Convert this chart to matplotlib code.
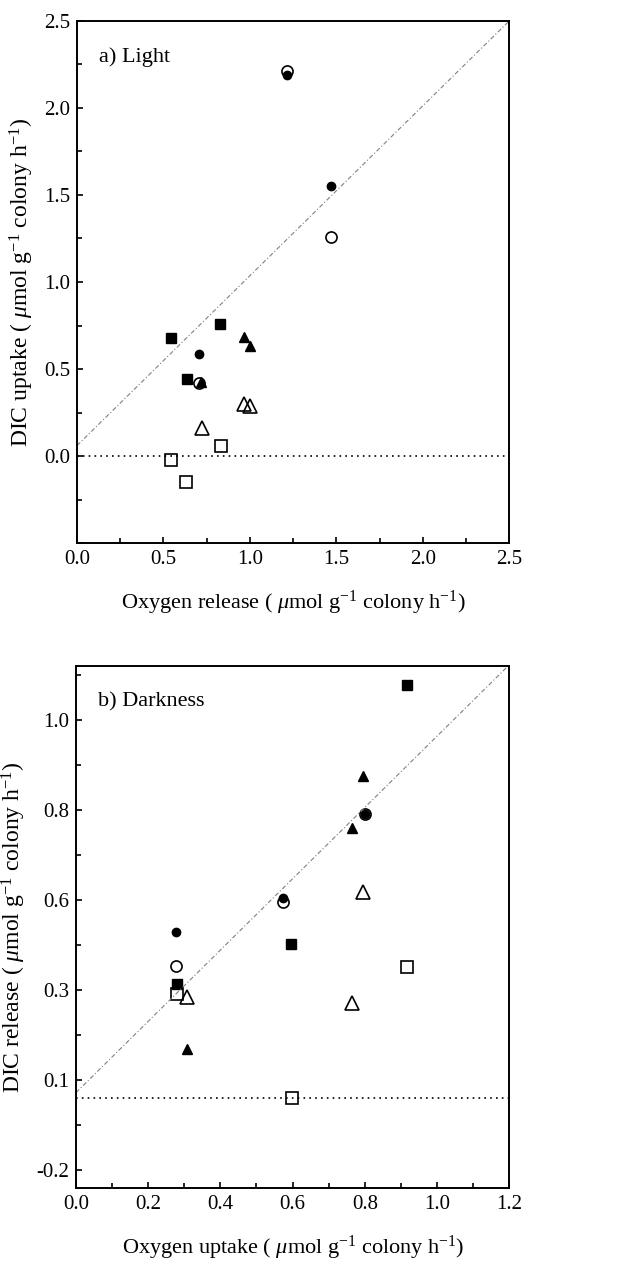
import numpy as np
from matplotlib import pyplot as plt
from matplotlib.ticker import MultipleLocator, FixedLocator

plt.rcParams['font.family'] = ['Liberation Serif', 'DejaVu Serif']
plt.rcParams['mathtext.fontset'] = 'custom'
plt.rcParams['mathtext.rm'] = 'Liberation Serif'
plt.rcParams['mathtext.it'] = 'Liberation Serif:italic'

### a) Light
light_fc_x = [1.213, 1.47, 0.704]
light_fc_y = [2.19, 1.549, 0.584]
light_oc_x = [1.213, 1.47, 0.704]
light_oc_y = [2.21, 1.26, 0.418]
light_fs_x = [0.542, 0.829, 0.635]
light_fs_y = [0.679, 0.757, 0.444]
light_os_x = [0.832, 0.542, 0.633]
light_os_y = [0.055, -0.025, -0.149]
light_ft_x = [0.968, 1.001, 0.718]
light_ft_y = [0.685, 0.631, 0.427]
light_ot_x = [0.968, 1.001, 0.721]
light_ot_y = [0.297, 0.288, 0.160]
light_fit = [0.06, 0.976]   # intercept, slope

### b) Darkness
dark_fc_x = [0.80, 0.573, 0.276]
dark_fc_y = [0.789, 0.556, 0.462]
dark_oc_x = [0.80, 0.573, 0.276]
dark_oc_y = [0.789, 0.544, 0.366]
dark_fs_x = [0.918, 0.596, 0.279]
dark_fs_y = [1.148, 0.429, 0.317]
dark_os_x = [0.918, 0.597, 0.279]
dark_os_y = [0.363, 0.0, 0.289]
dark_ft_x = [0.796, 0.764, 0.308]
dark_ft_y = [0.895, 0.749, 0.137]
dark_ot_x = [0.796, 0.765, 0.308]
dark_ot_y = [0.573, 0.264, 0.281]
dark_fit = [0.015, 0.99]

dark_yticks = [-0.2, 0.05, 0.3, 0.55, 0.8, 1.05]
dark_yticklabels = ['-0.2', '0.1', '0.3', '0.6', '0.8', '1.0']


def draw_points(ax, fc, oc, fs, os_, ft, ot):
    # filled markers first, open ones (no face) on top
    ax.plot(*fc, 'o', ms=6, color='black', ls='none')
    ax.plot(*fs, 's', ms=6.5, color='black', ls='none')
    ax.plot(*ft, '^', ms=7.5, color='black', ls='none')
    ax.plot(*oc, 'o', ms=8, mfc='none', mec='black', mew=1.2, ls='none')
    ax.plot(*os_, 's', ms=9, mfc='none', mec='black', mew=1.2, ls='none')
    ax.plot(*ot, '^', ms=10, mfc='none', mec='black', mew=1.2, ls='none')


def style_axes(ax):
    for s in ax.spines.values():
        s.set_linewidth(1.4)
    ax.tick_params(which='both', direction='in', top=False, right=False,
                   labelsize=15, width=1.2, pad=5)
    ax.tick_params(which='major', length=4)
    ax.tick_params(which='minor', length=3.5)


fig = plt.figure(figsize=(6.31, 12.62), dpi=100)

ax1 = fig.add_axes([0.122, 0.5697, 0.685, 0.4137])
draw_points(ax1, (light_fc_x, light_fc_y), (light_oc_x, light_oc_y),
            (light_fs_x, light_fs_y), (light_os_x, light_os_y),
            (light_ft_x, light_ft_y), (light_ot_x, light_ot_y))
xx = np.array([0, 2.5])
ax1.plot(xx, light_fit[0] + light_fit[1]*xx, color='gray', lw=0.8,
         ls=(0, (4, 2, 1, 2)))
ax1.axhline(0, color='black', lw=1.2, ls=(0, (1, 2.5)))
ax1.set_xlim(0, 2.5)
ax1.set_ylim(-0.5, 2.5)
ax1.xaxis.set_major_locator(MultipleLocator(0.5))
ax1.xaxis.set_minor_locator(MultipleLocator(0.25))
ax1.yaxis.set_major_locator(FixedLocator([0, 0.5, 1.0, 1.5, 2.0, 2.5]))
ax1.yaxis.set_minor_locator(MultipleLocator(0.25))
ax1.xaxis.set_major_formatter('{x:.1f}')
ax1.yaxis.set_major_formatter('{x:.1f}')
style_axes(ax1)
ax1.text(0.05, 0.95, 'a) Light', transform=ax1.transAxes, fontsize=16,
         va='top', ha='left')
ax1.set_xlabel(r'Oxygen release ( $\mathit{\mu}$mol g$^{-1}$ colony h$^{-1}$)',
               fontsize=16, labelpad=14)
ax1.set_ylabel(r'DIC uptake ( $\mathit{\mu}$mol g$^{-1}$ colony h$^{-1}$)',
               fontsize=17, labelpad=6)

ax2 = fig.add_axes([0.1204, 0.0586, 0.6866, 0.4137])
draw_points(ax2, (dark_fc_x, dark_fc_y), (dark_oc_x, dark_oc_y),
            (dark_fs_x, dark_fs_y), (dark_os_x, dark_os_y),
            (dark_ft_x, dark_ft_y), (dark_ot_x, dark_ot_y))
xx = np.array([0, 1.2])
ax2.plot(xx, dark_fit[0] + dark_fit[1]*xx, color='gray', lw=0.8,
         ls=(0, (4, 2, 1, 2)))
ax2.axhline(0, color='black', lw=1.2, ls=(0, (1, 2.5)))
ax2.set_xlim(0, 1.2)
ax2.set_ylim(-0.25, 1.2)
ax2.xaxis.set_major_locator(MultipleLocator(0.2))
ax2.xaxis.set_minor_locator(MultipleLocator(0.1))
ax2.xaxis.set_major_formatter('{x:.1f}')
ax2.set_yticks(dark_yticks)
ax2.set_yticklabels(dark_yticklabels)
ax2.yaxis.set_minor_locator(FixedLocator([t + 0.125 for t in dark_yticks]))
style_axes(ax2)
ax2.text(0.05, 0.95, 'b) Darkness', transform=ax2.transAxes, fontsize=16,
         va='top', ha='left')
ax2.set_xlabel(r'Oxygen uptake ( $\mathit{\mu}$mol g$^{-1}$ colony h$^{-1}$)',
               fontsize=16, labelpad=14)
ax2.set_ylabel(r'DIC release ( $\mathit{\mu}$mol g$^{-1}$ colony h$^{-1}$)',
               fontsize=17, labelpad=6)

fig.savefig('out.png', dpi=100)
